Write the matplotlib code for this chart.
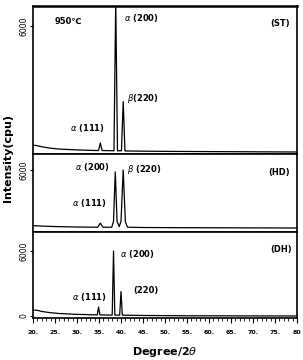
import matplotlib
matplotlib.use("Agg")
import matplotlib.pyplot as plt
from matplotlib.ticker import MultipleLocator, FixedLocator

plt.rcParams['font.family'] = ['DejaVu Sans', 'Noto Sans CJK SC']

# ---- data ----
st_x = [20, 21, 22, 24, 26, 28, 30, 33, 34.9, 35.3, 35.7, 38.4, 38.8, 39.2, 40.1, 40.5, 40.9, 45, 50, 60, 70, 80]
st_y = [330, 300, 250, 180, 140, 120, 100, 80, 70, 430, 70, 60, 7200, 60, 60, 2400, 50, 40, 30, 20, 10, 0]

hd_x = [20, 22, 25, 30, 34.7, 35.3, 35.9, 37.9, 38.3, 38.7, 39.1, 39.6, 40.0, 40.5, 41.0, 41.5, 45, 55, 80]
hd_y = [250, 200, 150, 100, 80, 500, 80, 80, 700, 5800, 700, 150, 700, 6000, 600, 80, 50, 30, 0]

dh_x = [20, 21, 22, 24, 26, 30, 34.6, 34.9, 35.2, 38.0, 38.3, 38.6, 39.7, 40.0, 40.3, 45, 55, 80]
dh_y = [550, 520, 420, 300, 230, 150, 100, 830, 100, 80, 6000, 80, 80, 2250, 80, 50, 20, 0]

x_major = [20, 25, 30, 35, 40, 45, 50, 55, 60, 65, 70, 75, 80]
x_labels = [f"{v}." for v in x_major[:-1]] + ["80"]

W, H = 303, 360
fig = plt.figure(figsize=(W / 100, H / 100), dpi=100)


def rect(l, t, r, b):
    return [l / W, 1 - b / H, (r - l) / W, (b - t) / H]


ax_st = fig.add_axes(rect(33, 6, 297, 154))
ax_hd = fig.add_axes(rect(33, 154, 297, 232))
ax_dh = fig.add_axes(rect(33, 232, 297, 318))

lw = 0.9
ax_st.plot(st_x, st_y, color='black', lw=lw)
ax_hd.plot(hd_x, hd_y, color='black', lw=lw)
ax_dh.plot(dh_x, dh_y, color='black', lw=lw)

ax_st.set_ylim(-95, 6950)
ax_hd.set_ylim(-414, 7650)
ax_dh.set_ylim(-185, 7750)

for ax in (ax_st, ax_hd, ax_dh):
    ax.set_xlim(20, 80)
    for s in ax.spines.values():
        s.set_linewidth(1.2)
    ax.tick_params(axis='y', direction='out', length=2.5, width=0.8, labelsize=5.5, pad=1)
    ax.yaxis.set_major_locator(FixedLocator([6000]))
    for lab in ax.get_yticklabels():
        lab.set_rotation(90)
        lab.set_va('center')
    ax.set_yticklabels(['6000'], rotation=90, va='center')

ax_st.spines['top'].set_linewidth(1.8)
ax_dh.yaxis.set_major_locator(FixedLocator([0, 6000]))
ax_dh.set_yticklabels(['0', '6000'], rotation=90, va='center')

for ax in (ax_st, ax_hd):
    ax.tick_params(axis='x', which='both', bottom=False, labelbottom=False)

ax_dh.xaxis.set_major_locator(FixedLocator(x_major))
ax_dh.xaxis.set_minor_locator(MultipleLocator(1))
ax_dh.set_xticklabels(x_labels)
ax_dh.tick_params(axis='x', which='major', direction='out', length=3.5, width=0.8,
                  labelsize=4.5, pad=5)
ax_dh.tick_params(axis='x', which='minor', direction='out', length=2, width=0.6)
for lab in ax_dh.get_xticklabels():
    lab.set_fontweight('bold')

fs = 6
kw = dict(fontsize=fs, fontweight='bold', va='center', ha='left')
# ST
ax_st.text(25.0, 6240, "950℃", **kw)
ax_st.text(40.7, 6380, r"$\alpha$ (200)", **kw)
ax_st.text(73.9, 6140, "(ST)", **kw)
ax_st.text(41.4, 2570, r"$\beta$(220)", **kw)
ax_st.text(28.4, 1140, r"$\alpha$ (111)", **kw)
# HD
ax_hd.text(29.5, 6300, r"$\alpha$ (200)", **kw)
ax_hd.text(41.4, 6000, r"$\beta$ (220)", **kw)
ax_hd.text(73.4, 5690, "(HD)", **kw)
ax_hd.text(28.9, 2590, r"$\alpha$ (111)", **kw)
# DH
ax_dh.text(39.8, 5720, r"$\alpha$ (200)", **kw)
ax_dh.text(42.7, 2310, "(220)", **kw)
ax_dh.text(73.9, 6090, "(DH)", **kw)
ax_dh.text(28.9, 1750, r"$\alpha$ (111)", **kw)

fig.text(8 / W, 1 - 158 / H, "Intensity(cpu)", rotation=90, fontsize=8,
         fontweight='bold', ha='center', va='center')
fig.text(165 / W, 1 - 352 / H, r"Degree/2$\theta$", fontsize=8,
         fontweight='bold', ha='center', va='center')

fig.savefig("out.png", dpi=100)
